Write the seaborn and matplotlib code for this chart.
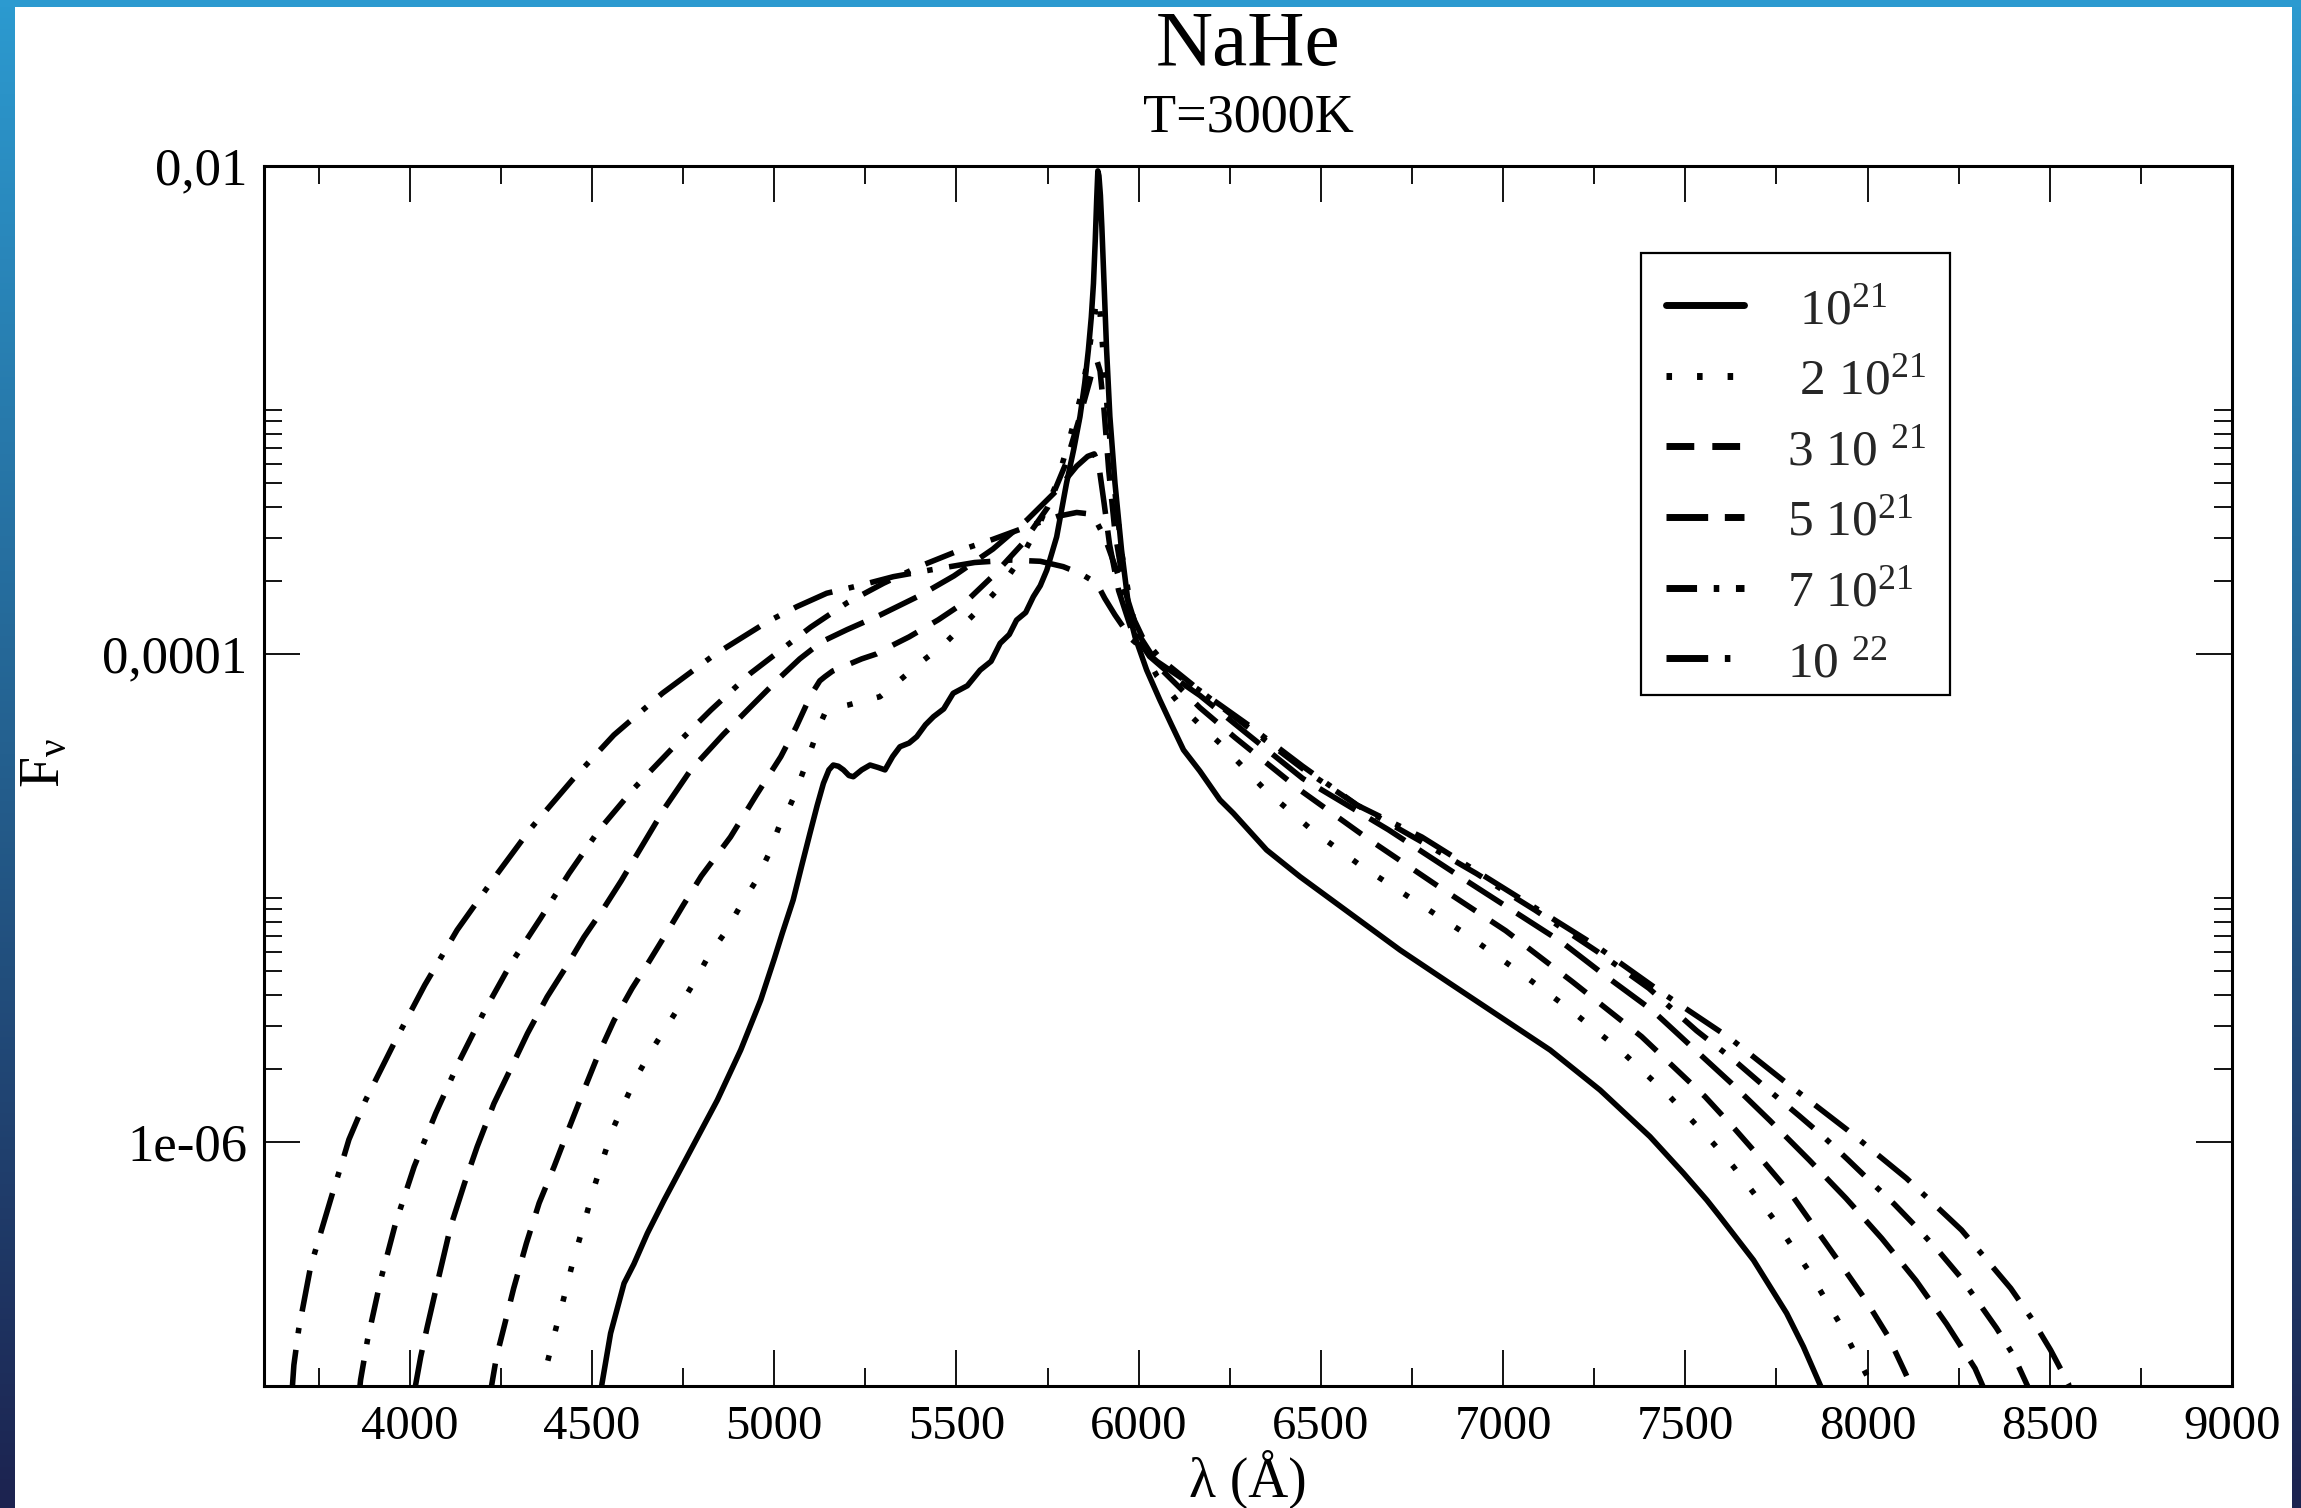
import numpy as np
import matplotlib
matplotlib.use("Agg")
import matplotlib.pyplot as plt
import seaborn as sns
from matplotlib.lines import Line2D
from matplotlib.patches import Rectangle
from matplotlib.ticker import FixedLocator, NullFormatter
from matplotlib.colors import LinearSegmentedColormap

# ---------------- data (wavelength in Angstrom, log10 of F_nu) -------------
lam_1e21 = [4524, 4551, 4588, 4615, 4652, 4698, 4771, 4844, 4908, 4963, 5000, 5022, 5052, 5075, 5098,
            5118, 5135, 5150, 5162, 5176, 5190, 5205, 5217, 5240, 5263, 5285, 5304, 5325, 5345, 5370,
            5391, 5415, 5437, 5465, 5491, 5530, 5565, 5595, 5620, 5645, 5665, 5690, 5711, 5730, 5748,
            5775, 5802, 5822, 5839, 5852, 5862, 5870, 5876, 5881, 5885, 5888, 5891, 5895, 5899, 5905,
            5912, 5921, 5935, 5953, 5976, 5990, 6022, 6058, 6090, 6123, 6168, 6223, 6260, 6351, 6443,
            6580, 6717, 6854, 6991, 7129, 7266, 7403, 7495, 7559, 7595, 7687, 7778, 7824, 7870, 7880]
logF_1e21 = [-7.02, -6.784, -6.579, -6.50, -6.374, -6.238, -6.033, -5.828, -5.623, -5.418, -5.25, -5.145,
             -5.008, -4.87, -4.735, -4.62, -4.530, -4.475, -4.455, -4.46, -4.475, -4.498, -4.503, -4.475,
             -4.455, -4.465, -4.475, -4.42, -4.380, -4.365, -4.339, -4.29, -4.257, -4.225, -4.161, -4.13,
             -4.066, -4.03, -3.956, -3.92, -3.861, -3.83, -3.765, -3.72, -3.656, -3.52, -3.300, -3.16,
             -3.027, -2.89, -2.754, -2.62, -2.481, -2.30, -2.13, -2.02, -2.04, -2.12, -2.25, -2.481,
             -2.754, -3.027, -3.30, -3.574, -3.847, -3.93, -4.066, -4.188, -4.29, -4.393, -4.48, -4.598,
             -4.653, -4.803, -4.913, -5.063, -5.213, -5.350, -5.486, -5.623, -5.787, -5.978, -6.128,
             -6.238, -6.306, -6.484, -6.702, -6.839, -6.996, -7.03]

lam_2e21 = [4365, 4377, 4400, 4419, 4446, 4475, 4505, 4530, 4556, 4588, 4620, 4661, 4716, 4750, 4784,
            4821, 4867, 4908, 4950, 4986, 5013, 5035, 5052, 5080, 5107, 5125, 5139, 5165, 5203, 5250,
            5290, 5345, 5405, 5469, 5519, 5574, 5629, 5680, 5730, 5775, 5810, 5840, 5862, 5877, 5886,
            5893, 5902, 5915, 5932, 5955, 5980, 6010, 6050, 6120, 6168, 6228, 6347, 6475, 6607, 6754,
            6895, 7037, 7179, 7321, 7453, 7577, 7632, 7741, 7837, 7929, 7966, 8007, 8015]
logF_2e21 = [-7.02, -6.907, -6.77, -6.661, -6.50, -6.35, -6.190, -6.07, -5.951, -5.842, -5.739, -5.630,
             -5.50, -5.42, -5.336, -5.234, -5.138, -5.03, -4.93, -4.817, -4.708, -4.65, -4.592, -4.48,
             -4.366, -4.29, -4.243, -4.22, -4.209, -4.19, -4.175, -4.107, -4.031, -3.956, -3.881, -3.799,
             -3.710, -3.60, -3.46, -3.30, -3.12, -2.95, -2.78, -2.62, -2.54, -2.58, -2.76, -3.02, -3.30,
             -3.60, -3.82, -3.98, -4.09, -4.22, -4.29, -4.373, -4.557, -4.721, -4.865, -5.008, -5.145,
             -5.295, -5.452, -5.623, -5.807, -6.006, -6.101, -6.313, -6.525, -6.757, -6.866, -6.982, -7.02]

lam_3e21 = [4222, 4238, 4260, 4285, 4320, 4355, 4396, 4435, 4475, 4515, 4560, 4610, 4658, 4710, 4750,
            4800, 4880, 4950, 5018, 5060, 5100, 5125, 5139, 5160, 5200, 5240, 5280, 5330, 5370, 5450,
            5530, 5600, 5680, 5750, 5800, 5840, 5866, 5878, 5886, 5894, 5905, 5918, 5935, 5960, 6000,
            6060, 6168, 6264, 6445, 6627, 6813, 7007, 7190, 7380, 7554, 7636, 7716, 7792, 7860, 7926,
            7995, 8057, 8105, 8125]
logF_3e21 = [-7.02, -6.880, -6.75, -6.60, -6.415, -6.25, -6.101, -5.95, -5.798, -5.65, -5.503, -5.37,
             -5.257, -5.13, -5.03, -4.91, -4.75, -4.58, -4.421, -4.30, -4.17, -4.11, -4.093, -4.07,
             -4.045, -4.02, -4.00, -3.96, -3.93, -3.86, -3.78, -3.68, -3.55, -3.40, -3.22, -3.02, -2.88,
             -2.81, -2.80, -2.84, -3.00, -3.25, -3.50, -3.73, -3.92, -4.06, -4.22, -4.342, -4.560,
             -4.755, -4.943, -5.134, -5.343, -5.568, -5.814, -5.947, -6.083, -6.217, -6.361, -6.500,
             -6.648, -6.798, -6.951, -7.02]

lam_5e21 = [4013, 4030, 4048, 4080, 4112, 4150, 4185, 4231, 4280, 4323, 4350, 4377, 4430, 4478, 4533,
            4580, 4624, 4700, 4771, 4860, 4945, 5018, 5070, 5130, 5200, 5291, 5400, 5493, 5600, 5694,
            5775, 5830, 5860, 5878, 5890, 5905, 5920, 5945, 5980, 6030, 6100, 6168, 6300, 6450, 6685,
            6900, 7162, 7280, 7409, 7517, 7627, 7732, 7840, 7941, 8039, 8133, 8217, 8295, 8322]
logF_5e21 = [-7.02, -6.88, -6.757, -6.55, -6.347, -6.17, -6.019, -5.842, -5.69, -5.555, -5.48, -5.405,
             -5.28, -5.16, -5.04, -4.93, -4.82, -4.63, -4.475, -4.33, -4.202, -4.093, -4.02, -3.95,
             -3.90, -3.84, -3.76, -3.68, -3.57, -3.45, -3.33, -3.23, -3.19, -3.18, -3.22, -3.38, -3.55,
             -3.74, -3.90, -4.01, -4.10, -4.17, -4.33, -4.51, -4.72, -4.93, -5.182, -5.318, -5.46,
             -5.609, -5.760, -5.912, -6.074, -6.231, -6.395, -6.568, -6.746, -6.928, -7.02]

lam_7e21 = [3862, 3865, 3884, 3920, 3961, 4012, 4071, 4135, 4204, 4277, 4359, 4437, 4520, 4615, 4720,
            4826, 4935, 5018, 5100, 5200, 5300, 5400, 5500, 5600, 5700, 5780, 5830, 5860, 5885, 5908,
            5940, 5975, 6010, 6060, 6168, 6300, 6450, 6600, 6777, 6927, 7088, 7259, 7400, 7531, 7630,
            7741, 7812, 7879, 7945, 8011, 8073, 8135, 8196, 8254, 8304, 8354, 8400, 8436, 8445]
logF_7e21 = [-7.02, -6.975, -6.811, -6.566, -6.333, -6.101, -5.883, -5.671, -5.466, -5.27, -5.083,
             -4.899, -4.72, -4.551, -4.387, -4.230, -4.079, -3.984, -3.89, -3.79, -3.71, -3.64, -3.58,
             -3.53, -3.475, -3.435, -3.42, -3.425, -3.46, -3.526, -3.66, -3.82, -3.93, -4.02, -4.15,
             -4.30, -4.47, -4.62, -4.77, -4.90, -5.05, -5.22, -5.37, -5.544, -5.66, -5.803, -5.892,
             -5.978, -6.071, -6.166, -6.254, -6.35, -6.449, -6.552, -6.657, -6.763, -6.873, -6.99, -7.02]

lam_1e22 = [3672, 3678, 3682, 3695, 3714, 3728, 3760, 3790, 3815, 3833, 3879, 3959, 4041, 4130, 4231,
            4332, 4446, 4560, 4693, 4835, 4981, 5062, 5144, 5240, 5327, 5427, 5550, 5650, 5730, 5793,
            5840, 5885, 5907, 5935, 5981, 6050, 6168, 6300, 6450, 6600, 6777, 6927, 7088, 7259, 7432,
            7623, 7773, 7945, 8107, 8258, 8393, 8450, 8502, 8551, 8556]
logF_1e22 = [-7.02, -7.0, -6.914, -6.77, -6.62, -6.51, -6.35, -6.20, -6.08, -5.99, -5.828, -5.589,
             -5.357, -5.131, -4.919, -4.715, -4.516, -4.332, -4.161, -4.004, -3.868, -3.806, -3.751,
             -3.717, -3.683, -3.656, -3.625, -3.615, -3.62, -3.642, -3.67, -3.710, -3.772, -3.84, -3.94,
             -4.03, -4.15, -4.29, -4.46, -4.62, -4.75, -4.89, -5.04, -5.20, -5.384, -5.575, -5.753,
             -5.951, -6.149, -6.361, -6.600, -6.723, -6.852, -6.99, -7.02]

series_labels = [" 10$^{21}$", " 2 10$^{21}$", "3 10 $^{21}$", "5 10$^{21}$", "7 10$^{21}$", "10 $^{22}$"]
x_major = [4000, 4500, 5000, 5500, 6000, 6500, 7000, 7500, 8000, 8500, 9000]
x_minor = [3750, 4250, 4750, 5250, 5750, 6250, 6750, 7250, 7750, 8250, 8750]
y_major = [1e-2, 1e-4, 1e-6]
y_major_labels = ["0,01", "0,0001", "1e-06"]
y_minor_mant = [2, 3, 4, 5, 6, 7, 8, 9, 10]
y_minor_dec = [1e-4, 1e-6]

title_text = "NaHe"
subtitle_text = "T=3000K"
xlabel_text = "λ (Å)"
ylabel_text = "F$_{\\nu}$"

# ---------------- style -------------
sns.set_theme(style="white")
plt.rcParams["font.family"] = ["Liberation Serif", "DejaVu Serif"]
plt.rcParams["mathtext.fontset"] = "custom"
plt.rcParams["mathtext.rm"] = "Liberation Serif"
plt.rcParams["mathtext.it"] = "Liberation Serif:italic"
plt.rcParams["mathtext.bf"] = "Liberation Serif:bold"
plt.rcParams["mathtext.default"] = "regular"
plt.rcParams["lines.scale_dashes"] = False

W, H = 2301, 1508
fig = plt.figure(figsize=(W / 100, H / 100), dpi=100)
fig.patch.set_facecolor("white")

# slide-like gradient frame
grad = np.linspace(0, 1, 256).reshape(-1, 1)
cmap = LinearSegmentedColormap.from_list("frame", ["#2c9ad0", "#24608f", "#1c2350"])
for rect in ([0, 0, 15 / W, 1], [2292 / W, 0, 9 / W, 1]):
    fax = fig.add_axes(rect)
    fax.imshow(grad, aspect="auto", cmap=cmap, origin="upper", extent=[0, 1, 0, 1])
    fax.set_axis_off()
tax = fig.add_axes([0, 1 - 7 / H, 1, 7 / H])
tax.set_facecolor("#2c9ad0")
tax.set_xticks([]); tax.set_yticks([])
for s in tax.spines.values():
    s.set_visible(False)

ax = fig.add_axes([264 / W, 1 - 1386 / H, (2232 - 264) / W, (1386 - 166) / H])
ax.set_facecolor("white")

styles = [
    "-",
    (0, (4, 18)),
    (0, (20, 13)),
    (0, (30, 12)),
    (0, (22, 12, 4, 12)),
    (0, (30, 12, 4, 12)),
]
all_lam = [lam_1e21, lam_2e21, lam_3e21, lam_5e21, lam_7e21, lam_1e22]
all_logF = [logF_1e21, logF_2e21, logF_3e21, logF_5e21, logF_7e21, logF_1e22]

LW = 4.0
for lam, lf, ls in zip(all_lam, all_logF, styles):
    flux = np.power(10.0, np.asarray(lf))
    sns.lineplot(x=np.asarray(lam, float), y=flux, ax=ax, color="black", linewidth=LW,
                 linestyle=ls, estimator=None, sort=False, legend=False)

ax.set_yscale("log")
ax.set_xlim(3600, 9000)
ax.set_ylim(1e-7, 1e-2)

ax.set_xticks(x_major)
ax.set_xticklabels([str(v) for v in x_major])
ax.xaxis.set_minor_locator(FixedLocator(x_minor))
ax.set_yticks(y_major)
ax.set_yticklabels(y_major_labels)
ax.yaxis.set_minor_locator(FixedLocator([m * d for d in y_minor_dec for m in y_minor_mant]))
ax.yaxis.set_minor_formatter(NullFormatter())
ax.tick_params(which="both", direction="in", top=True, right=True, bottom=True, left=True,
               colors="black")
ax.tick_params(which="major", length=26, width=1.3)
ax.tick_params(which="minor", length=13, width=1.3)
ax.tick_params(axis="x", which="major", pad=14, labelsize=35)
ax.tick_params(axis="y", which="major", pad=12, labelsize=38)
for s in ax.spines.values():
    s.set_color("black")
    s.set_linewidth(2.2)
ax.grid(False)

# legend (frame drawn separately so its box matches the picture)
handles = [Line2D([0], [0], color="black", linewidth=5, linestyle=ls) for ls in styles]
leg = ax.legend(handles, series_labels, loc="upper left", bbox_to_anchor=(0.7124, 0.9007),
                borderaxespad=0, frameon=False, fontsize=37, handlelength=1.52,
                handletextpad=0.83, labelspacing=0.46, borderpad=0.0)
ax.add_patch(Rectangle((0.6997, 0.5664), 0.1570, 0.3623, transform=ax.transAxes,
                       facecolor="none", edgecolor="black", linewidth=1.6, zorder=4))

# titles and axis labels
cx = (264 + 2232) / 2 / W
fig.text(cx, 1 - 65 / H, title_text, ha="center", va="baseline", fontsize=57, color="black")
fig.text(cx, 1 - 131 / H, subtitle_text, ha="center", va="baseline", fontsize=39, color="black")
fig.text(cx, 1 - 1497 / H, xlabel_text, ha="center", va="baseline", fontsize=40, color="black")
fig.text(45 / W, 1 - 763 / H, ylabel_text, ha="center", va="center", rotation=90, fontsize=40,
         color="black")

fig.savefig("out.png", dpi=100, facecolor="white")
